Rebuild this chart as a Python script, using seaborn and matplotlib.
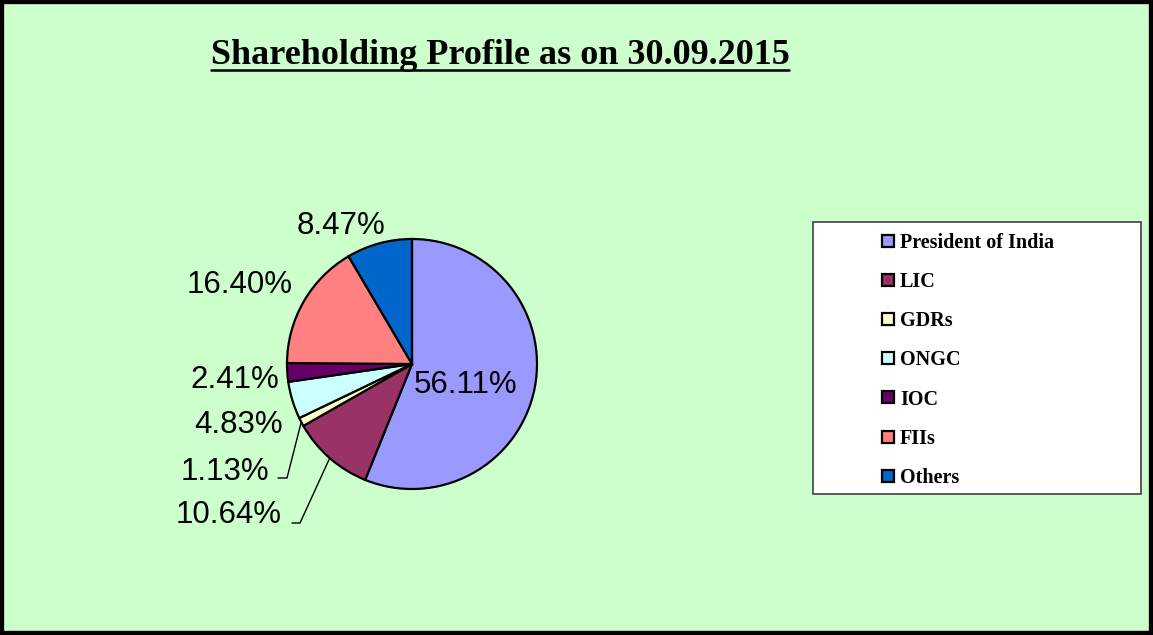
import numpy as np
import matplotlib
matplotlib.use("Agg")
import matplotlib.pyplot as plt
import seaborn as sns
from matplotlib.lines import Line2D
from matplotlib.patches import Rectangle

sns.set_style("white")
plt.rcParams['font.family'] = ['Liberation Sans', 'DejaVu Sans']
plt.rcParams['text.color'] = 'black'

# data
holders = ['President of India', 'LIC', 'GDRs', 'ONGC', 'IOC', 'FIIs', 'Others']
shares = [56.11, 10.64, 1.13, 4.83, 2.41, 16.40, 8.47]
colors = ['#9999FF', '#993366', '#FFFFCC', '#CCFFFF', '#660066', '#FF8080', '#0066CC']

# label placement (data units, pie radius = 1)
label_pos = [(0.43, -0.17), (-1.47, -1.21), (-1.50, -0.86), (-1.39, -0.49),
             (-1.42, -0.13), (-1.38, 0.63), (-0.57, 1.10)]
# leader lines for small slices: elbow and end points
leaders = {1: [(-0.896, -1.272), (-0.96, -1.272)],
           2: [(-1.0, -0.912), (-1.072, -0.912)]}

bg = '#CCFFCC'
fig = plt.figure(figsize=(11.53, 6.35), dpi=100)
fig.patch.set_facecolor(bg)

ax = fig.add_axes([0, 0, 1, 1])
ax.set_facecolor(bg)
wedges, _ = ax.pie(shares, colors=colors, startangle=90, counterclock=False,
                   radius=1.0, wedgeprops=dict(edgecolor='black', linewidth=1.6))
cx, r = 412, 125
ax.set_xlim(-cx / r, (1153 - cx) / r)
ax.set_ylim(-(635 - 364) / r, 364 / r)
ax.set_aspect('equal')
ax.axis('off')

for i, w in enumerate(wedges):
    x, y = label_pos[i]
    ax.text(x, y, f'{shares[i]:.2f}%', ha='center', va='center',
            fontsize=22.5, color='black')
    if i in leaders:
        mid = np.deg2rad((w.theta1 + w.theta2) / 2)
        pts = [(np.cos(mid), np.sin(mid))] + leaders[i]
        ax.plot([p[0] for p in pts], [p[1] for p in pts], color='black', lw=1)

# legend box
fig.patches.append(Rectangle((813 / 1153, 1 - 494 / 635), 328 / 1153, 272 / 635,
                             transform=fig.transFigure, facecolor='white',
                             edgecolor='#404040', lw=1.2, zorder=1))
handles = [Line2D([], [], marker='s', linestyle='none', markersize=9,
                  markerfacecolor=c, markeredgecolor='black', markeredgewidth=1.6)
           for c in colors]
leg = fig.legend(handles, holders, loc='upper left',
                 bbox_to_anchor=(882 / 1153, 1 - 233 / 635), frameon=False,
                 handlelength=0.6, handletextpad=0.3, labelspacing=0.95,
                 borderpad=0, borderaxespad=0,
                 prop=dict(family='Liberation Serif', weight='bold', size=14.5))
for t in leg.get_texts():
    t.set_color('black')
leg.set_zorder(3)

# title with underline
title = fig.text(500 / 1153, 1 - 64 / 635, 'Shareholding Profile as on 30.09.2015',
                 ha='center', va='baseline', fontsize=26, color='black',
                 family='Liberation Serif', weight='bold')
fig.canvas.draw()
bb = title.get_window_extent().transformed(fig.transFigure.inverted())
fig.lines.append(Line2D([bb.x0, bb.x1], [1 - 70 / 635] * 2, transform=fig.transFigure,
                        color='black', lw=1.8))

# outer frame
fig.patches.append(Rectangle((0, 0), 1, 1, transform=fig.transFigure, fill=False,
                             edgecolor='black', lw=6, zorder=5))

fig.savefig('out.png', dpi=100, facecolor=bg)
